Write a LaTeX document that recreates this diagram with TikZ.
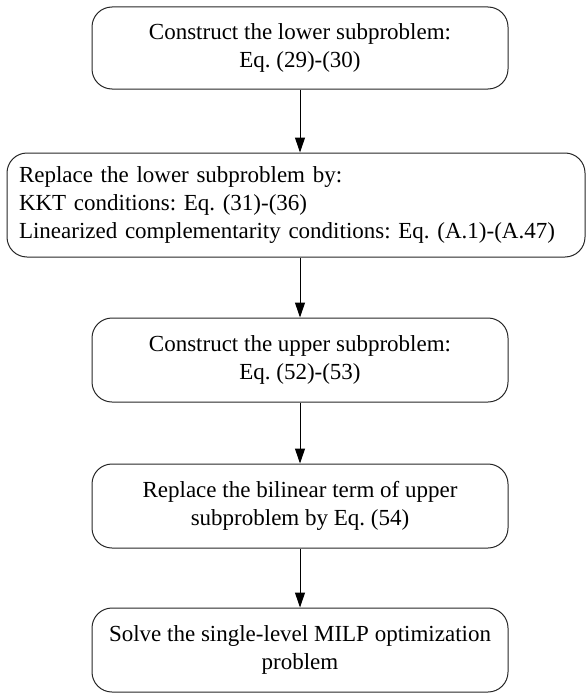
\documentclass[tikz,border=0pt]{standalone}
\usepackage{fontspec}
\setmainfont{Liberation Serif}
\usepackage{tikz}
\usetikzlibrary{calc}
\usetikzlibrary{arrows.meta}
\usetikzlibrary{positioning}
\frenchspacing

\begin{document}
\begin{tikzpicture}[x=1pt, y=-1pt,
        stepbox/.style={draw=black!85, line width=1pt, rounded corners=20pt,
                        minimum width=416pt, minimum height=84pt, inner sep=0pt,
                        align=center, font=\fontsize{23}{28}\selectfont},
        flowarrow/.style={line width=1pt, -{Triangle[length=15pt, width=10pt]}}]
            % Frame to ensure alignment:
            \useasboundingbox                                                 (0, 0) rectangle (587, 693);
            % Steps
            \node[stepbox, minimum height=82pt]  (lower)    at (300,  48) {Construct the lower subproblem:\\Eq. (29)-(30)};
            \node[stepbox, minimum width=578pt, minimum height=104pt,
                  text width=554pt, align=left]  (kkt)      at (296, 205) {Replace the lower subproblem by:\\KKT conditions: Eq. (31)-(36)\\Linearized complementarity conditions: Eq. (A.1)-(A.47)};
            \node[stepbox]                       (upper)    at (300, 360) {Construct the upper subproblem:\\Eq. (52)-(53)};
            \node[stepbox]                       (bilinear) at (300, 506) {Replace the bilinear term of upper\\subproblem by Eq. (54)};
            \node[stepbox]                       (solve)    at (300, 650) {Solve the single-level MILP optimization\\problem};
            % Arrows
            \draw[flowarrow] (lower.south)    -- (lower.south |- kkt.north);
            \draw[flowarrow] (lower.south |- kkt.south) -- (upper.north);
            \draw[flowarrow] (upper.south)    -- (bilinear.north);
            \draw[flowarrow] (bilinear.south) -- (solve.north);
        \end{tikzpicture}
\end{document}
